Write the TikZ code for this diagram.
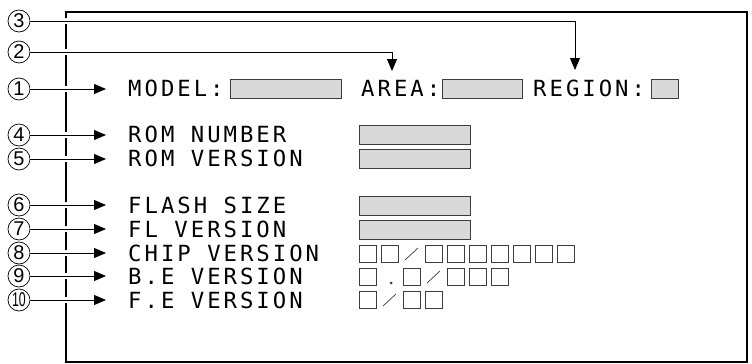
\documentclass[tikz,border=0pt]{standalone}
\usepackage{fontspec}
\setmainfont{Liberation Sans}
\newfontfamily\dispfont[LetterSpace=13.5]{DejaVu Sans Mono}
\definecolor{FieldGray}{RGB}{217,217,217}
\definecolor{EdgeGray}{RGB}{60,60,60}
\usetikzlibrary{arrows.meta,positioning,calc}

\begin{document}
\begin{tikzpicture}[x=0.03cm,y=-0.03cm,
  num/.style={circle,draw,line width=0.6pt,inner sep=0pt,minimum size=0.66cm,font=\fontsize{17}{17}\selectfont},
  lbl/.style={anchor=base west,inner sep=0pt,font=\dispfont\fontsize{19}{20}\selectfont},
  conn/.style={line width=0.7pt,-{Triangle[length=0.36cm,width=0.3cm]},preaction={draw=white,line width=5pt,-}},
  field/.style={draw=EdgeGray,fill=FieldGray,line width=0.6pt},
  cell/.style={draw=EdgeGray,line width=0.6pt}]
\useasboundingbox (0,0) rectangle (752,364);
% Screen frame
\draw[line width=2pt] (66,12) rectangle (747,362);
% Callout numbers
\node[num] (n3) at (19,21) {3};
\node[num] (n2) at (19,52) {2};
\node[num] (n1) at (19,89) {1};
\node[num] (n4) at (19,135) {4};
\node[num] (n5) at (19,159) {5};
\node[num] (n6) at (19,205) {6};
\node[num] (n7) at (19,229) {7};
\node[num] (n8) at (19,253) {8};
\node[num] (n9) at (19,276) {9};
\node[num] (n10) at (19,300) {\scalebox{0.62}[1]{10}};
% Item labels
\node[lbl] (model) at (128,96.5) {MODEL:};
\node[lbl] (area) at (361,96.5) {AREA:};
\node[lbl] (region) at (533,96.5) {REGION:};
\node[lbl] (romnum) at (128,142.5) {ROM NUMBER};
\node[lbl] (romver) at (128,166.5) {ROM VERSION};
\node[lbl] (flsize) at (128,213) {FLASH SIZE};
\node[lbl] (flver) at (128,237) {FL VERSION};
\node[lbl] (chipver) at (128,261) {CHIP VERSION};
\node[lbl] (bever) at (128,284.5) {B.E VERSION};
\node[lbl] (fever) at (128,308) {F.E VERSION};
% Value fields
\draw[field] (230,79) rectangle (341,98);
\draw[field] (442,79) rectangle (522,98);
\draw[field] (651,79) rectangle (678,98);
\draw[field] (359,125) rectangle (470,144);
\draw[field] (359,149) rectangle (470,168);
\draw[field] (359,196) rectangle (470,215);
\draw[field] (359,220) rectangle (470,239);
% Character cells
\foreach \i in {0,1,3,4,...,9} \draw[cell] ({359+22*\i},245) rectangle +(17,17);
\draw[cell] (405,260) -- (418,248);
\foreach \i in {0,2,4,5,6} \draw[cell] ({359+22*\i},268) rectangle +(17,17);
\fill[EdgeGray] (391,283) circle (0.045cm);
\draw[cell] (427,283) -- (440,271);
\foreach \i in {0,2,3} \draw[cell] ({359+22*\i},291) rectangle +(17,17);
\draw[cell] (383,306) -- (396,294);
% Connectors
\coordinate (tip) at (106,0);
\coordinate (t2) at (392,71);
\coordinate (t3) at (575,70);
\draw[conn] (n3) -| (t3);
\draw[conn] (n2) -| (t2);
\foreach \k in {1,4,5,6,7,8,9,10} \draw[conn] (n\k) -- (n\k -| tip);
\end{tikzpicture}
\end{document}
